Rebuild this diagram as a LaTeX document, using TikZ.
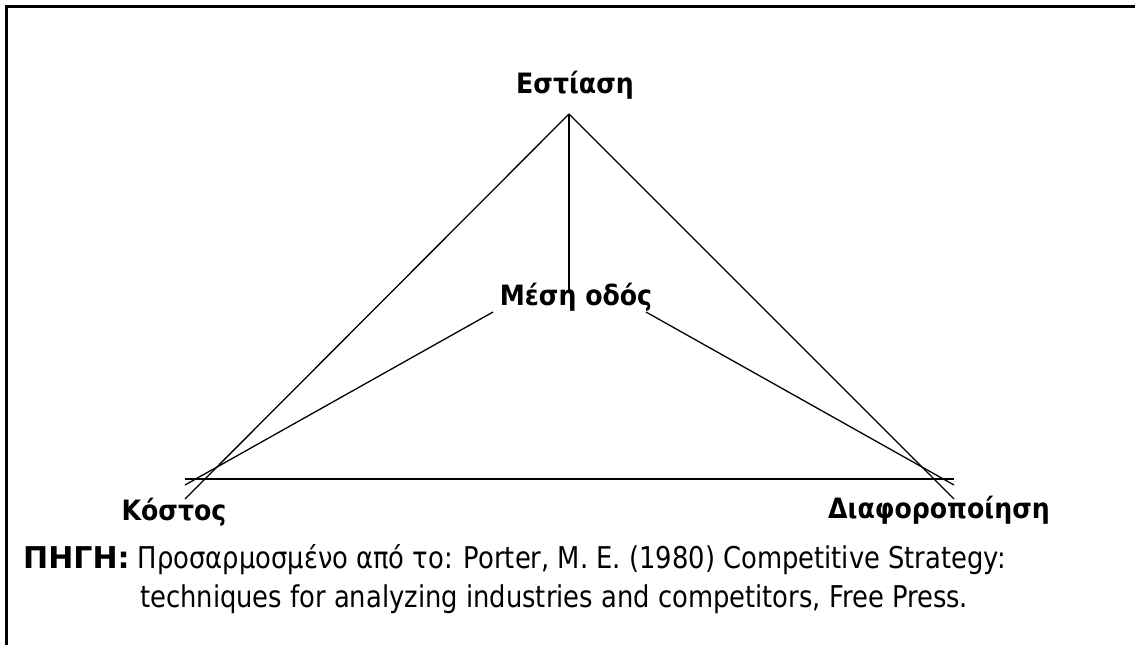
\documentclass[tikz,border=0pt]{standalone}
\usepackage{fontspec}
\newfontfamily\tah[FakeStretch=0.9]{DejaVu Sans}
\newfontfamily\tahn[FakeStretch=0.86]{DejaVu Sans}
\newfontfamily\tahb{DejaVu Sans}
\begin{document}
\begin{tikzpicture}[x=1pt,y=-1pt,
  frame/.style={line width=2.3pt},
  edge/.style={line width=1.3pt},
  lab/.style={font=\tah\bfseries\fontsize{28}{30}\selectfont, inner sep=0pt, anchor=base},
  captxt/.style={font=\tahn\fontsize{30}{34}\selectfont, inner sep=0pt, anchor=base west}]
\useasboundingbox (0,0) rectangle (1135,645);
% frame
\coordinate (f1) at (6.5,645);
\coordinate (f2) at (6.5,6.5);
\coordinate (f3) at (1135,6.5);
\draw[frame] (f1) -- (f2) -- (f3);
% points
\coordinate (apex) at (569,114);
\coordinate (kl) at (185,499);
\coordinate (kr) at (954,499);
\coordinate (mid) at (569,290);
\coordinate (ml) at (493,312);
\coordinate (mr) at (646,312);
\coordinate (sl) at (185,485);
\coordinate (sr) at (954,485);
\coordinate (bl) at (185,479);
\coordinate (br) at (954,479);
\draw[edge] (apex) -- (kl);
\draw[edge] (apex) -- (kr);
\draw[edge] (apex) -- (mid);
\draw[edge] (ml) -- (sl);
\draw[edge] (mr) -- (sr);
\draw[edge] (bl) -- (br);
% labels
\node[lab] (est) at (575,93) {Εστίαση};
\node[lab] (mes) at (576,305) {Μέση οδός};
\node[lab] (kos) at (174,520) {Κόστος};
\node[lab] (dia) at (939,518) {Διαφοροποίηση};
\node[captxt] (c1) at (23,568) {{\tahb\bfseries ΠΗΓΗ:} Προσαρμοσμένο από το: Porter, M. E. (1980) Competitive Strategy:};
\node[captxt] (c2) at (140,607) {techniques for analyzing industries and competitors, Free Press.};
\end{tikzpicture}
\end{document}
